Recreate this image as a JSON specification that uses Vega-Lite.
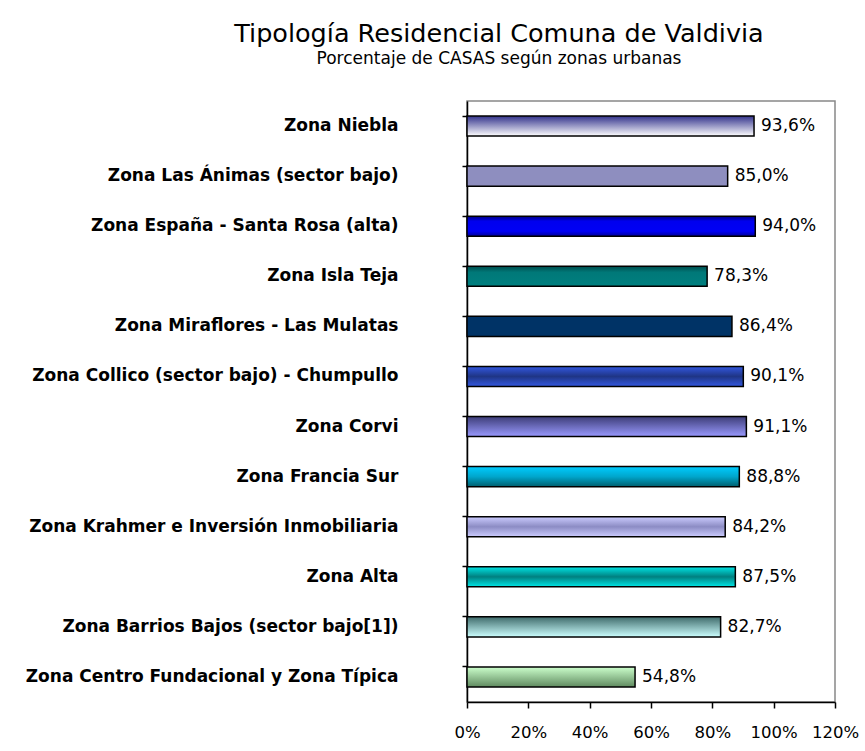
{
  "$schema": "https://vega.github.io/schema/vega-lite/v6.json",
  "autosize": {"type": "none"},
  "width": 368,
  "height": 601,
  "padding": {"left": 467, "top": 101, "right": 30, "bottom": 49},
  "background": "white",
  "config": {
    "locale": {"number": {"decimal": ",", "thousands": ".", "grouping": [3], "currency": ["", "€"]}},
    "view": {"stroke": "#888888", "strokeWidth": 1.5},
    "font": "DejaVu Sans"
  },
  "title": {
    "text": "Tipología Residencial Comuna de Valdivia",
    "subtitle": "Porcentaje de CASAS según zonas urbanas",
    "anchor": "middle",
    "frame": "group",
    "dx": -152,
    "offset": 34,
    "font": "DejaVu Sans",
    "fontSize": 25.5,
    "fontWeight": 500,
    "color": "black",
    "subtitleFont": "DejaVu Sans",
    "subtitleFontSize": 17,
    "subtitleColor": "black",
    "subtitlePadding": 4
  },
  "data": {
    "values": [
      {"zona": "Zona Niebla", "valor": 0.936},
      {"zona": "Zona Las Ánimas (sector bajo)", "valor": 0.850},
      {"zona": "Zona España - Santa Rosa (alta)", "valor": 0.940},
      {"zona": "Zona Isla Teja", "valor": 0.783},
      {"zona": "Zona Miraflores - Las Mulatas", "valor": 0.864},
      {"zona": "Zona Collico (sector bajo) - Chumpullo", "valor": 0.901},
      {"zona": "Zona Corvi", "valor": 0.911},
      {"zona": "Zona Francia Sur", "valor": 0.888},
      {"zona": "Zona Krahmer e Inversión Inmobiliaria", "valor": 0.842},
      {"zona": "Zona Alta", "valor": 0.875},
      {"zona": "Zona Barrios Bajos (sector bajo[1])", "valor": 0.827},
      {"zona": "Zona Centro Fundacional y Zona Típica", "valor": 0.548}
    ]
  },
  "encoding": {
    "y": {
      "field": "zona",
      "type": "nominal",
      "sort": null,
      "title": null,
      "scale": {"paddingInner": 0.6, "paddingOuter": 0.3},
      "axis": {
        "bandPosition": 0,
        "domainColor": "black",
        "domainWidth": 1.5,
        "tickColor": "black",
        "tickSize": 5,
        "tickWidth": 1.5,
        "labelFont": "DejaVu Sans",
        "labelFontWeight": "bold",
        "labelFontSize": 17,
        "labelColor": "black",
        "labelPadding": 64,
        "labelLimit": 500
      }
    },
    "x": {
      "field": "valor",
      "type": "quantitative",
      "title": null,
      "scale": {"domain": [0, 1.2], "nice": false},
      "axis": {
        "format": ".0%",
        "values": [0, 0.2, 0.4, 0.6, 0.8, 1.0, 1.2],
        "grid": false,
        "domainColor": "black",
        "domainWidth": 1.5,
        "tickColor": "black",
        "tickSize": 6,
        "tickWidth": 1.5,
        "labelFont": "DejaVu Sans",
        "labelFontSize": 16.5,
        "labelColor": "black",
        "labelPadding": 16,
        "labelFlush": false
      }
    }
  },
  "layer": [
    {
      "mark": {"type": "bar", "stroke": "black", "strokeWidth": 1.5},
      "encoding": {
        "fill": {
          "condition": [
            {"test": "datum.zona === 'Zona Niebla'", "value": {"gradient": "linear", "x1": 0, "y1": 0, "x2": 0, "y2": 1, "stops": [{"offset": 0, "color": "#33338c"}, {"offset": 1, "color": "#ffffff"}]}},
            {"test": "datum.zona === 'Zona Las Ánimas (sector bajo)'", "value": "#8e8ebf"},
            {"test": "datum.zona === 'Zona España - Santa Rosa (alta)'", "value": {"gradient": "linear", "x1": 0, "y1": 0, "x2": 0, "y2": 1, "stops": [{"offset": 0, "color": "#000080"}, {"offset": 0.25, "color": "#0000ee"}, {"offset": 0.75, "color": "#0000f5"}, {"offset": 1, "color": "#000099"}]}},
            {"test": "datum.zona === 'Zona Isla Teja'", "value": {"gradient": "linear", "x1": 0, "y1": 0, "x2": 0, "y2": 1, "stops": [{"offset": 0, "color": "#004d4d"}, {"offset": 0.3, "color": "#007878"}, {"offset": 1, "color": "#008080"}]}},
            {"test": "datum.zona === 'Zona Miraflores - Las Mulatas'", "value": "#003366"},
            {"test": "datum.zona === 'Zona Collico (sector bajo) - Chumpullo'", "value": {"gradient": "linear", "x1": 0, "y1": 0, "x2": 0, "y2": 1, "stops": [{"offset": 0, "color": "#3358e0"}, {"offset": 0.5, "color": "#1f3585"}, {"offset": 1, "color": "#3358e0"}]}},
            {"test": "datum.zona === 'Zona Corvi'", "value": {"gradient": "linear", "x1": 0, "y1": 0, "x2": 0, "y2": 1, "stops": [{"offset": 0, "color": "#3d3d78"}, {"offset": 1, "color": "#9a9aff"}]}},
            {"test": "datum.zona === 'Zona Francia Sur'", "value": {"gradient": "linear", "x1": 0, "y1": 0, "x2": 0, "y2": 1, "stops": [{"offset": 0, "color": "#00ccff"}, {"offset": 0.5, "color": "#00a6cc"}, {"offset": 1, "color": "#005f6e"}]}},
            {"test": "datum.zona === 'Zona Krahmer e Inversión Inmobiliaria'", "value": {"gradient": "linear", "x1": 0, "y1": 0, "x2": 0, "y2": 1, "stops": [{"offset": 0, "color": "#ccccff"}, {"offset": 0.5, "color": "#8c8cc4"}, {"offset": 1, "color": "#ccccff"}]}},
            {"test": "datum.zona === 'Zona Alta'", "value": {"gradient": "linear", "x1": 0, "y1": 0, "x2": 0, "y2": 1, "stops": [{"offset": 0, "color": "#00e6e6"}, {"offset": 0.5, "color": "#008080"}, {"offset": 1, "color": "#00e6e6"}]}},
            {"test": "datum.zona === 'Zona Barrios Bajos (sector bajo[1])'", "value": {"gradient": "linear", "x1": 0, "y1": 0, "x2": 0, "y2": 1, "stops": [{"offset": 0, "color": "#3f6b6b"}, {"offset": 1, "color": "#ccffff"}]}}
          ],
          "value": {"gradient": "linear", "x1": 0, "y1": 0, "x2": 0, "y2": 1, "stops": [{"offset": 0, "color": "#ccffcc"}, {"offset": 1, "color": "#5f8a5f"}]}
        }
      }
    },
    {
      "mark": {"type": "text", "align": "left", "baseline": "middle", "dx": 7, "font": "DejaVu Sans", "fontSize": 17, "color": "black"},
      "encoding": {
        "text": {"field": "valor", "type": "quantitative", "format": ".1%"}
      }
    }
  ]
}
